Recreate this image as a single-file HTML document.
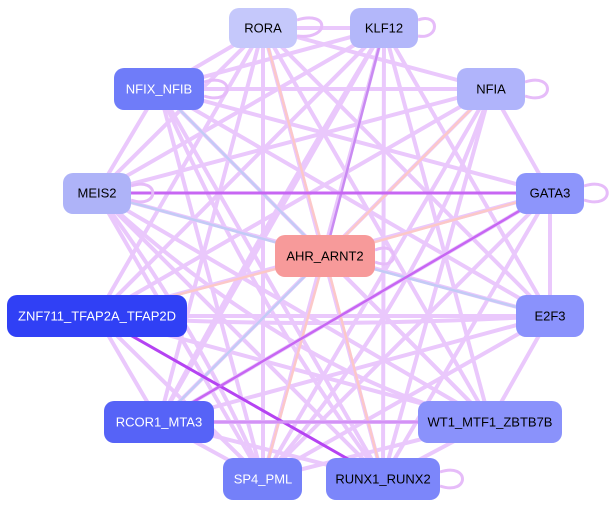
<!DOCTYPE html>
<html><head><meta charset="utf-8"><style>
html,body{margin:0;padding:0;background:#fff;}
svg{display:block}
text{font-family:"Liberation Sans",sans-serif;font-size:13px;text-anchor:middle;dominant-baseline:central}
</style></head><body>
<svg width="616" height="512" viewBox="0 0 616 512" xmlns="http://www.w3.org/2000/svg">
<g stroke="#eac8fc" stroke-width="4" fill="none" stroke-linecap="round">
<line x1="263" y1="28" x2="97" y2="193"/><line x1="263" y1="28" x2="159" y2="89"/><line x1="263" y1="28" x2="263" y2="479"/><line x1="263" y1="28" x2="383" y2="479"/><line x1="263" y1="28" x2="490" y2="422"/><line x1="263" y1="28" x2="550" y2="316"/><line x1="263" y1="28" x2="384" y2="28"/><line x1="263" y1="28" x2="491" y2="89"/><line x1="263" y1="28" x2="97" y2="316"/><line x1="263" y1="28" x2="159" y2="422"/>
<line x1="384" y1="28" x2="159" y2="89"/><line x1="384" y1="28" x2="97" y2="193"/><line x1="384" y1="28" x2="263" y2="479"/><line x1="384" y1="28" x2="383" y2="479"/><line x1="384" y1="28" x2="550" y2="316"/><line x1="384" y1="28" x2="490" y2="422"/><line x1="384" y1="28" x2="159" y2="422"/><line x1="384" y1="28" x2="97" y2="316"/>
<line x1="159" y1="89" x2="491" y2="89"/><line x1="159" y1="89" x2="550" y2="193"/><line x1="159" y1="89" x2="550" y2="316"/><line x1="159" y1="89" x2="490" y2="422"/><line x1="159" y1="89" x2="263" y2="479"/><line x1="159" y1="89" x2="383" y2="479"/><line x1="159" y1="89" x2="97" y2="193"/>
<line x1="491" y1="89" x2="97" y2="193"/><line x1="491" y1="89" x2="97" y2="316"/><line x1="491" y1="89" x2="159" y2="422"/><line x1="491" y1="89" x2="263" y2="479"/><line x1="491" y1="89" x2="383" y2="479"/><line x1="491" y1="89" x2="550" y2="193"/>
<line x1="97" y1="193" x2="550" y2="316"/><line x1="97" y1="193" x2="490" y2="422"/><line x1="97" y1="193" x2="263" y2="479"/><line x1="97" y1="193" x2="383" y2="479"/>
<line x1="550" y1="193" x2="97" y2="316"/><line x1="550" y1="193" x2="159" y2="422"/><line x1="550" y1="193" x2="263" y2="479"/><line x1="550" y1="193" x2="383" y2="479"/><line x1="550" y1="193" x2="550" y2="316"/>
<line x1="97" y1="316" x2="550" y2="316"/><line x1="97" y1="316" x2="490" y2="422"/><line x1="97" y1="316" x2="159" y2="422"/><line x1="97" y1="316" x2="263" y2="479"/>
<line x1="550" y1="316" x2="159" y2="422"/><line x1="550" y1="316" x2="263" y2="479"/><line x1="550" y1="316" x2="490" y2="422"/>
<line x1="159" y1="422" x2="490" y2="422"/><line x1="159" y1="422" x2="263" y2="479"/><line x1="159" y1="422" x2="383" y2="479"/>
<line x1="490" y1="422" x2="263" y2="479"/><line x1="490" y1="422" x2="383" y2="479"/>
<line x1="325" y1="256" x2="490" y2="422"/>
<path d="M97 193 Q200 330 263 479"/><path d="M159 89 Q250 300 383 479"/><path d="M384 28 Q250 250 159 422"/><path d="M491 89 Q420 300 263 479"/><path d="M97 193 Q300 380 490 422"/><path d="M97 316 Q300 330 550 316"/>
</g>
<g stroke-width="2.5" fill="none">
<line x1="263" y1="28" x2="325" y2="256" stroke="#fcc8c8"/>
<line x1="384" y1="28" x2="325" y2="256" stroke="#c98af2"/>
<line x1="159" y1="89" x2="325" y2="256" stroke="#c3cbf6"/>
<line x1="491" y1="89" x2="325" y2="256" stroke="#fcc8c8"/>
<line x1="97" y1="193" x2="325" y2="256" stroke="#c3cbf6"/>
<line x1="550" y1="193" x2="325" y2="256" stroke="#fcc8c8"/>
<line x1="550" y1="316" x2="325" y2="256" stroke="#c3cbf6"/>
<line x1="97" y1="316" x2="325" y2="256" stroke="#fcc8c8"/>
<line x1="159" y1="422" x2="325" y2="256" stroke="#c3cbf6"/>
<line x1="263" y1="479" x2="325" y2="256" stroke="#fcc8c8"/>
<line x1="383" y1="479" x2="325" y2="256" stroke="#fcc8c8"/>
<line x1="97" y1="316" x2="383" y2="479" stroke="#b543f2" stroke-width="3"/>
<line x1="97" y1="193" x2="550" y2="193" stroke="#c766f3" stroke-width="3"/>
<line x1="159" y1="422" x2="550" y2="193" stroke="#c766f3" stroke-width="2.5"/>
<line x1="159" y1="422" x2="490" y2="422" stroke="#d392f6" stroke-width="3"/>
</g>
<g stroke="#e6bcf9" stroke-width="3" fill="none">
<path d="M297 20 C330 10 330 40 297 36"/><path d="M418 20 C440 12 440 40 418 36"/>
<path d="M204 82 C235 72 235 106 204 96"/><path d="M525 82 C555 72 555 106 525 96"/>
<path d="M584 186 C615 176 615 210 584 200"/><path d="M131 186 C160 176 160 210 131 200"/>
<path d="M440 472 C470 462 470 496 440 486"/><path d="M375 250 C400 240 400 272 375 262"/>
</g>
<g>
<rect x="229" y="8" width="68" height="40" rx="10" fill="#c5c8fb"/><text x="263" y="28">RORA</text>
<rect x="350" y="8" width="68" height="40" rx="10" fill="#b3b7fa"/><text x="384" y="28">KLF12</text>
<rect x="114" y="68" width="90" height="42" rx="10" fill="#6f7cf9"/><text x="159" y="89" fill="#fff">NFIX_NFIB</text>
<rect x="457" y="68" width="68" height="42" rx="10" fill="#b0b4fb"/><text x="491" y="89">NFIA</text>
<rect x="63" y="173" width="68" height="41" rx="10" fill="#aeb3f8"/><text x="97" y="193">MEIS2</text>
<rect x="516" y="173" width="68" height="41" rx="10" fill="#8d95fb"/><text x="550" y="193">GATA3</text>
<rect x="275" y="235" width="100" height="42" rx="10" fill="#f79a9a"/><text x="325" y="256">AHR_ARNT2</text>
<rect x="7" y="295" width="180" height="42" rx="10" fill="#3040f5"/><text x="97" y="316" fill="#fff">ZNF711_TFAP2A_TFAP2D</text>
<rect x="516" y="295" width="68" height="42" rx="10" fill="#8a92fc"/><text x="550" y="316">E2F3</text>
<rect x="104" y="401" width="110" height="42" rx="10" fill="#5663f7"/><text x="159" y="422" fill="#fff">RCOR1_MTA3</text>
<rect x="418" y="401" width="144" height="42" rx="10" fill="#8a92fb"/><text x="490" y="422">WT1_MTF1_ZBTB7B</text>
<rect x="223" y="458" width="79" height="42" rx="10" fill="#7480f9"/><text x="263" y="479" fill="#fff">SP4_PML</text>
<rect x="326" y="458" width="114" height="42" rx="10" fill="#7c86fa"/><text x="383" y="479">RUNX1_RUNX2</text>
</g>
</svg>
</body></html>
